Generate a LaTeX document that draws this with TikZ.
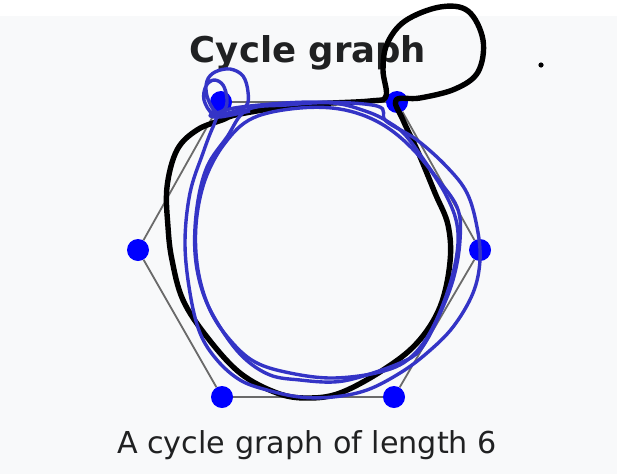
\documentclass[tikz,border=0pt]{standalone}
\usepackage{fontspec}
\setmainfont{DejaVu Sans}
\usetikzlibrary{backgrounds}
\definecolor{pagebg}{HTML}{F8F9FA}
\definecolor{inktext}{HTML}{202122}
\definecolor{edgegray}{HTML}{6A6A6A}
\definecolor{penblue}{HTML}{3434C6}
\tikzset{
  vert/.style={circle,fill=blue,inner sep=0pt,minimum size=22pt},
  cedge/.style={draw=edgegray,line width=1.8pt},
  penblack/.style={black,line width=5.4pt,line join=round},
  penb/.style={penblue,line width=3.4pt,line join=round}
}

\begin{document}
\begin{tikzpicture}[x=1pt,y=-1pt]
  \useasboundingbox (0,0) rectangle (617,474);
  \node[inktext,anchor=base,font=\bfseries\fontsize{35.5}{40}\selectfont] (title) at (308,62) {Cycle graph};
  \node[inktext,anchor=base,font=\fontsize{30.2}{36}\selectfont] (caption) at (307,453) {A cycle graph of length 6};
  \node[vert] (v1) at (221,102) {};
  \node[vert] (v2) at (397,102) {};
  \node[vert] (v3) at (480,250) {};
  \node[vert] (v4) at (394,397) {};
  \node[vert] (v5) at (222,397) {};
  \node[vert] (v6) at (138,250) {};
  \begin{scope}[on background layer]
    \fill[pagebg] (0,16) rectangle (617,474);
    \draw[cedge] (v1) -- (v2) -- (v3) -- (v4) -- (v5) -- (v6) -- (v1);
  \end{scope}
  \draw[penblack] plot[smooth cycle,tension=0.6] coordinates {(240,114)(300,105)(370,101)(386,96)(383,70)(387,44)(405,21)(440,7)(468,11)(483,40)(478,72)(455,89)(420,98)(396,100)(403,120)(418,152)(435,193)(448,225)(450,262)(440,307)(417,343)(383,370)(340,393)(307,398)(277,393)(240,373)(207,337)(183,300)(172,260)(168,227)(167,187)(177,150)(197,130)(222,120)};
  \fill[black] (541,65) circle (2.6pt);
  \draw[penb] plot[smooth cycle,tension=0.6] coordinates {(250,106)(313,102)(377,106)(386,121)(417,140)(447,167)(467,193)(477,227)(480,260)(473,293)(453,327)(427,353)(400,373)(367,390)(333,397)(300,397)(267,390)(240,380)(217,360)(200,333)(190,293)(185,243)(190,193)(203,153)(213,127)(222,112)};
  \draw[penb] plot[smooth cycle,tension=0.6] coordinates {(247,110)(287,105)(333,103)(368,112)(390,123)(407,137)(433,173)(457,207)(460,240)(453,280)(437,320)(420,350)(400,363)(360,377)(333,382)(300,380)(270,375)(243,357)(220,327)(203,293)(195,253)(197,207)(207,167)(227,137)};
  \draw[penb] plot[smooth cycle,tension=0.6] coordinates {(253,118)(300,108)(345,110)(385,126)(420,157)(447,197)(458,233)(452,277)(433,327)(410,358)(380,372)(333,378)(290,373)(255,362)(230,340)(210,310)(198,270)(196,225)(205,180)(225,143)};
  \draw[penb] plot[smooth,tension=0.6] coordinates {(247,110)(232,114)(216,112)(207,96)(207,81)(215,72)(230,69)(243,76)(248,92)(246,106)(228,113)(213,114)(204,100)(206,86)(214,80)(223,85)(227,99)(224,110)(210,115)(220,117)(250,111)};
\end{tikzpicture}
\end{document}
